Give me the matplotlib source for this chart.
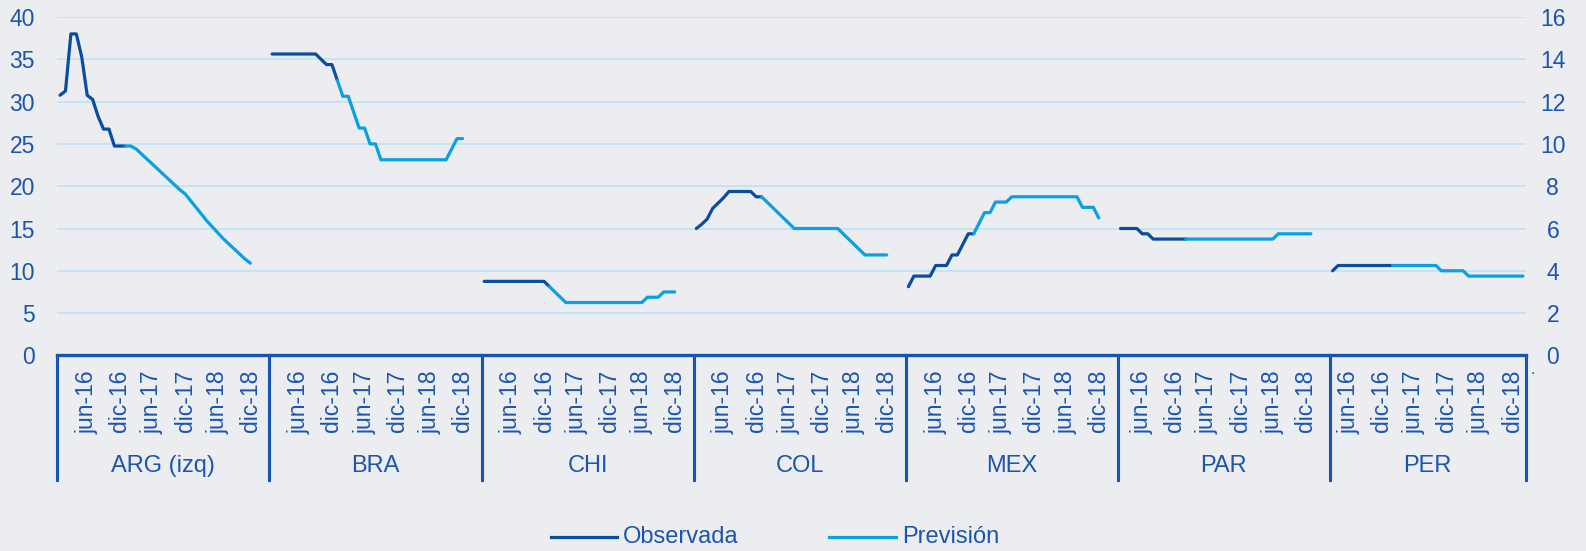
import matplotlib.pyplot as plt
import matplotlib.transforms as mtransforms
from matplotlib.lines import Line2D

plt.rcParams['font.family'] = ['Liberation Sans', 'DejaVu Sans']

# Data, monthly values per country
countries = ["ARG (izq)", "BRA", "CHI", "COL", "MEX", "PAR", "PER"]
first_month = ["ene-16", "ene-16", "ene-16", "ene-16", "ene-16", "feb-16", "mar-16"]
n_slots = [39, 39, 39, 39, 39, 39, 36]
n_observed = [13, 13, 13, 13, 13, 13, 12]
tick_labels = ["jun-16", "dic-16", "jun-17", "dic-17", "jun-18", "dic-18"]

arg = [30.75, 31.25, 38.0, 38.0, 35.25, 30.75, 30.25, 28.25, 26.75, 26.75, 24.75, 24.75,
       24.75, 24.75, 24.4, 23.8, 23.2, 22.6, 22.0, 21.4, 20.8, 20.2, 19.6, 19.1,
       18.3, 17.5, 16.7, 15.9, 15.2, 14.5, 13.8, 13.2, 12.6, 12.0, 11.4, 10.9]
bra = [14.25, 14.25, 14.25, 14.25, 14.25, 14.25, 14.25, 14.25, 14.25, 14.0, 13.75, 13.75,
       13.0, 12.25, 12.25, 11.5, 10.75, 10.75, 10.0, 10.0, 9.25, 9.25, 9.25, 9.25,
       9.25, 9.25, 9.25, 9.25, 9.25, 9.25, 9.25, 9.25, 9.25, 9.75, 10.25, 10.25]
chi = [3.5, 3.5, 3.5, 3.5, 3.5, 3.5, 3.5, 3.5, 3.5, 3.5, 3.5, 3.5,
       3.25, 3.0, 2.75, 2.5, 2.5, 2.5, 2.5, 2.5, 2.5, 2.5, 2.5, 2.5,
       2.5, 2.5, 2.5, 2.5, 2.5, 2.5, 2.75, 2.75, 2.75, 3.0, 3.0, 3.0]
col = [6.0, 6.2, 6.45, 6.95, 7.2, 7.45, 7.75, 7.75, 7.75, 7.75, 7.75, 7.5,
       7.5, 7.25, 7.0, 6.75, 6.5, 6.25, 6.0, 6.0, 6.0, 6.0, 6.0, 6.0,
       6.0, 6.0, 6.0, 5.75, 5.5, 5.25, 5.0, 4.75, 4.75, 4.75, 4.75, 4.75]
mex = [3.25, 3.75, 3.75, 3.75, 3.75, 4.25, 4.25, 4.25, 4.75, 4.75, 5.25, 5.75,
       5.75, 6.25, 6.75, 6.75, 7.25, 7.25, 7.25, 7.5, 7.5, 7.5, 7.5, 7.5,
       7.5, 7.5, 7.5, 7.5, 7.5, 7.5, 7.5, 7.5, 7.0, 7.0, 7.0, 6.5]
par = [6.0, 6.0, 6.0, 6.0, 5.75, 5.75, 5.5, 5.5, 5.5, 5.5, 5.5, 5.5,
       5.5, 5.5, 5.5, 5.5, 5.5, 5.5, 5.5, 5.5, 5.5, 5.5, 5.5, 5.5,
       5.5, 5.5, 5.5, 5.5, 5.5, 5.75, 5.75, 5.75, 5.75, 5.75, 5.75, 5.75]
per = [4.0, 4.25, 4.25, 4.25, 4.25, 4.25, 4.25, 4.25, 4.25, 4.25, 4.25, 4.25,
       4.25, 4.25, 4.25, 4.25, 4.25, 4.25, 4.25, 4.25, 4.0, 4.0, 4.0, 4.0,
       4.0, 3.75, 3.75, 3.75, 3.75, 3.75, 3.75, 3.75, 3.75, 3.75, 3.75, 3.75]
series = [arg, bra, chi, col, mex, par, per]

months = ["ene", "feb", "mar", "abr", "may", "jun", "jul", "ago", "sep", "oct", "nov", "dic"]


def month_index(label):
    m, y = label.split("-")
    return (int(y) - 16) * 12 + months.index(m)


# colours
bg = "#EBEDF0"
dark = "#0A4DA0"
light = "#0AA0E4"
text_c = "#1B55AE"
axis_c = "#1656B2"
grid_c = "#C2E4F4"

W, H = 1586, 551
fig = plt.figure(figsize=(W / 100, H / 100), dpi=100)
fig.patch.set_facecolor(bg)

x0, x1, y_top, y_axis = 57.3, 1525.7, 17.0, 355.4
ax = fig.add_axes([x0 / W, 1 - y_axis / H, (x1 - x0) / W, (y_axis - y_top) / H])
ax.set_facecolor(bg)
ax2 = ax.twinx()

total = sum(n_slots)
ax.set_xlim(0, total)
ax.set_ylim(0, 40)
ax2.set_ylim(0, 16)
ax.set_yticks(range(0, 41, 5))
ax2.set_yticks(range(0, 17, 2))
ax.set_xticks([])
ax.grid(axis="y", color=grid_c, lw=1.4)
ax.set_axisbelow(True)
for s in ["top", "right", "left"]:
    ax.spines[s].set_visible(False)
for s in ax2.spines.values():
    s.set_visible(False)
ax.spines["bottom"].set_color(axis_c)
ax.spines["bottom"].set_linewidth(2.4)
ax.tick_params(axis="y", length=0, pad=16, labelsize=16.5, labelcolor=text_c)
ax2.tick_params(axis="y", length=0, pad=19.5, labelsize=16.5, labelcolor=text_c)
for lab in ax2.get_yticklabels():
    lab.set_ha("center")

trans = mtransforms.blended_transform_factory(ax.transData, fig.transFigure)


def fy(py):
    return 1 - py / H


offset = 0
for k, name in enumerate(countries):
    vals = series[k]
    xs = [offset + i + 0.5 for i in range(len(vals))]
    target = ax if k == 0 else ax2
    n_obs = n_observed[k]
    target.plot(xs[:n_obs], vals[:n_obs], color=dark, lw=2.3,
                solid_capstyle="round", solid_joinstyle="round", zorder=3)
    target.plot(xs[n_obs - 1:], vals[n_obs - 1:], color=light, lw=2.3,
                solid_capstyle="round", solid_joinstyle="round", zorder=3)

    start = month_index(first_month[k])
    for lab in tick_labels:
        slot = month_index(lab) - start
        ax.text(offset + slot + 0.5, fy(370), lab, transform=trans, rotation=90,
                ha="center", va="top", fontsize=16.5, color=text_c)

    ax.text(offset + n_slots[k] / 2, fy(466), name, transform=trans,
            ha="center", va="center", fontsize=17, color=text_c)

    sep = Line2D([offset, offset], [fy(y_axis), fy(480)], transform=trans,
                 color=axis_c, lw=2.2, clip_on=False)
    ax.add_line(sep)
    offset += n_slots[k]

ax.add_line(Line2D([offset, offset], [fy(y_axis), fy(480)], transform=trans,
                   color=axis_c, lw=2.2, clip_on=False))
ax.text(offset + 0.8, fy(370), ".", transform=trans, ha="left", va="center",
        fontsize=12, color=text_c)

# legend
ly = fy(537)
fig.add_artist(Line2D([551 / W, 617 / W], [ly, ly], color=dark, lw=2.3))
fig.text(623 / W, ly, "Observada", ha="left", va="center", fontsize=17, color=text_c)
fig.add_artist(Line2D([829 / W, 896 / W], [ly, ly], color=light, lw=2.3))
fig.text(902 / W, ly, "Previsión", ha="left", va="center", fontsize=17, color=text_c)

fig.savefig("out.png", dpi=100, facecolor=bg)
